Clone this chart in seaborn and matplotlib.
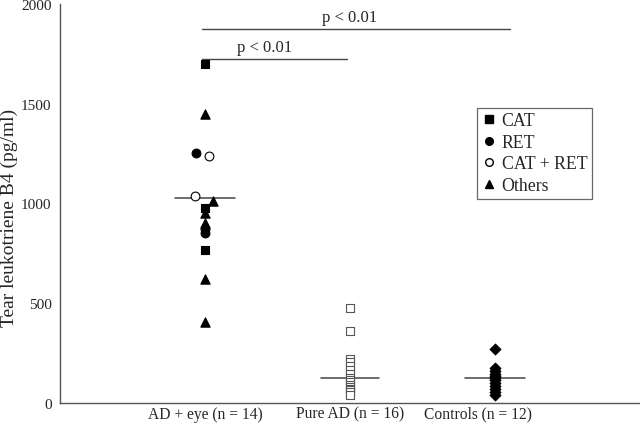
import matplotlib
matplotlib.use("Agg")
import matplotlib.pyplot as plt
import seaborn as sns
import pandas as pd
from matplotlib.lines import Line2D

# ---- data ----
groups = ["AD + eye (n = 14)", "Pure AD (n = 16)", "Controls (n = 12)"]

ad_eye_values = [1700, 1450, 1255, 1240, 1038, 1013, 977, 952, 900, 870, 850, 767, 622, 406]
ad_eye_types = ["CAT", "Others", "RET", "CAT + RET", "CAT + RET", "Others", "CAT", "Others",
                "Others", "RET", "RET", "CAT", "Others", "Others"]
ad_eye_jitter = [0, 0, -0.062, 0.028, -0.069, 0.055, 0, 0, 0, 0, 0, 0, 0, 0]

pure_ad_values = [476, 361, 220, 205, 185, 165, 145, 125, 115, 105, 90, 80, 70, 65, 55, 40]
controls_values = [271, 175, 160, 145, 135, 125, 115, 100, 85, 70, 55, 40]

center_values = [1030, 125, 125]

legend_labels = ["CAT", "RET", "CAT + RET", "Others"]
sig_labels = ["p < 0.01", "p < 0.01"]

# ---- build table ----
rows = []
for v, t, j in zip(ad_eye_values, ad_eye_types, ad_eye_jitter):
    rows.append({"x": 0 + j, "value": v, "type": t})
for v in pure_ad_values:
    rows.append({"x": 1, "value": v, "type": "Pure AD"})
for v in controls_values:
    rows.append({"x": 2, "value": v, "type": "Controls"})
df = pd.DataFrame(rows)

sns.set_style("white")
plt.rcParams["font.family"] = ["Liberation Serif", "DejaVu Serif"]

fig = plt.figure(figsize=(6.4, 4.27), dpi=100)
ax = fig.add_axes([60 / 640, 23 / 427, 580 / 640, 399 / 427])

styles = {
    "CAT": dict(marker="s", s=30, color="black", edgecolor="black"),
    "RET": dict(marker="o", s=40, color="black", edgecolor="black"),
    "CAT + RET": dict(marker="o", s=40, color="white", edgecolor="black"),
    "Others": dict(marker="^", s=45, color="black", edgecolor="black"),
    "Pure AD": dict(marker="s", s=38, color="white", edgecolor="#555555"),
    "Controls": dict(marker="D", s=30, color="black", edgecolor="black"),
}
for t, st in styles.items():
    sub = df[df["type"] == t]
    sns.scatterplot(data=sub, x="x", y="value", ax=ax, linewidth=0.8, zorder=3,
                    legend=False, **st)

# median lines
half_widths = [0.21, 0.20, 0.21]
for i, c in enumerate(center_values):
    ax.plot([i - half_widths[i], i + half_widths[i]], [c, c], color="#444444", lw=1.1, zorder=2)

# significance bars
ax.plot([-0.02, 2.10], [1875, 1875], color="#444444", lw=1.0)
ax.text(1.0, 1935, sig_labels[0], ha="center", va="center", fontsize=12)
ax.plot([-0.02, 0.98], [1724, 1724], color="#444444", lw=1.0)
ax.text(0.41, 1785, sig_labels[1], ha="center", va="center", fontsize=12)

ax.set_xlim(-1, 3)
ax.set_ylim(0, 2000)
ax.set_yticks([0, 500, 1000, 1500, 2000])
ax.set_xticks([0, 1, 1.88])
ax.set_xticklabels(groups)
ax.tick_params(axis="y", direction="in", length=6, color="#555555", labelsize=11, pad=6)
ax.tick_params(axis="x", length=0, labelsize=11.2, pad=2)
ax.set_xlabel("")
ax.set_ylabel("Tear leukotriene B4 (pg/ml)", fontsize=14)
ax.yaxis.label.set_rotation_mode("anchor")
ax.yaxis.label.set_verticalalignment("center")
ax.yaxis.label.set_horizontalalignment("center")
ax.yaxis.set_label_coords((9 - 60) / 580, (404 - 218) / 399)

for side in ["top", "right"]:
    ax.spines[side].set_visible(False)
for side in ["left", "bottom"]:
    ax.spines[side].set_color("#555555")
    ax.spines[side].set_linewidth(1.0)

handles = []
for lab in legend_labels:
    st = styles[lab]
    handles.append(Line2D([], [], linestyle="none", marker=st["marker"],
                          markerfacecolor=st["color"], markeredgecolor=st["edgecolor"],
                          markersize=5.5))
leg = ax.legend(handles, legend_labels, loc="upper left",
                bbox_to_anchor=((477 - 60) / 580, (404 - 108.5) / 399),
                fontsize=12.8, frameon=True, fancybox=False, handletextpad=0.3,
                handlelength=0.8, borderpad=0.28, labelspacing=0.25, borderaxespad=0)
leg.get_frame().set_edgecolor("#444444")
leg.get_frame().set_linewidth(0.9)

fig.savefig("out.png", dpi=100)
